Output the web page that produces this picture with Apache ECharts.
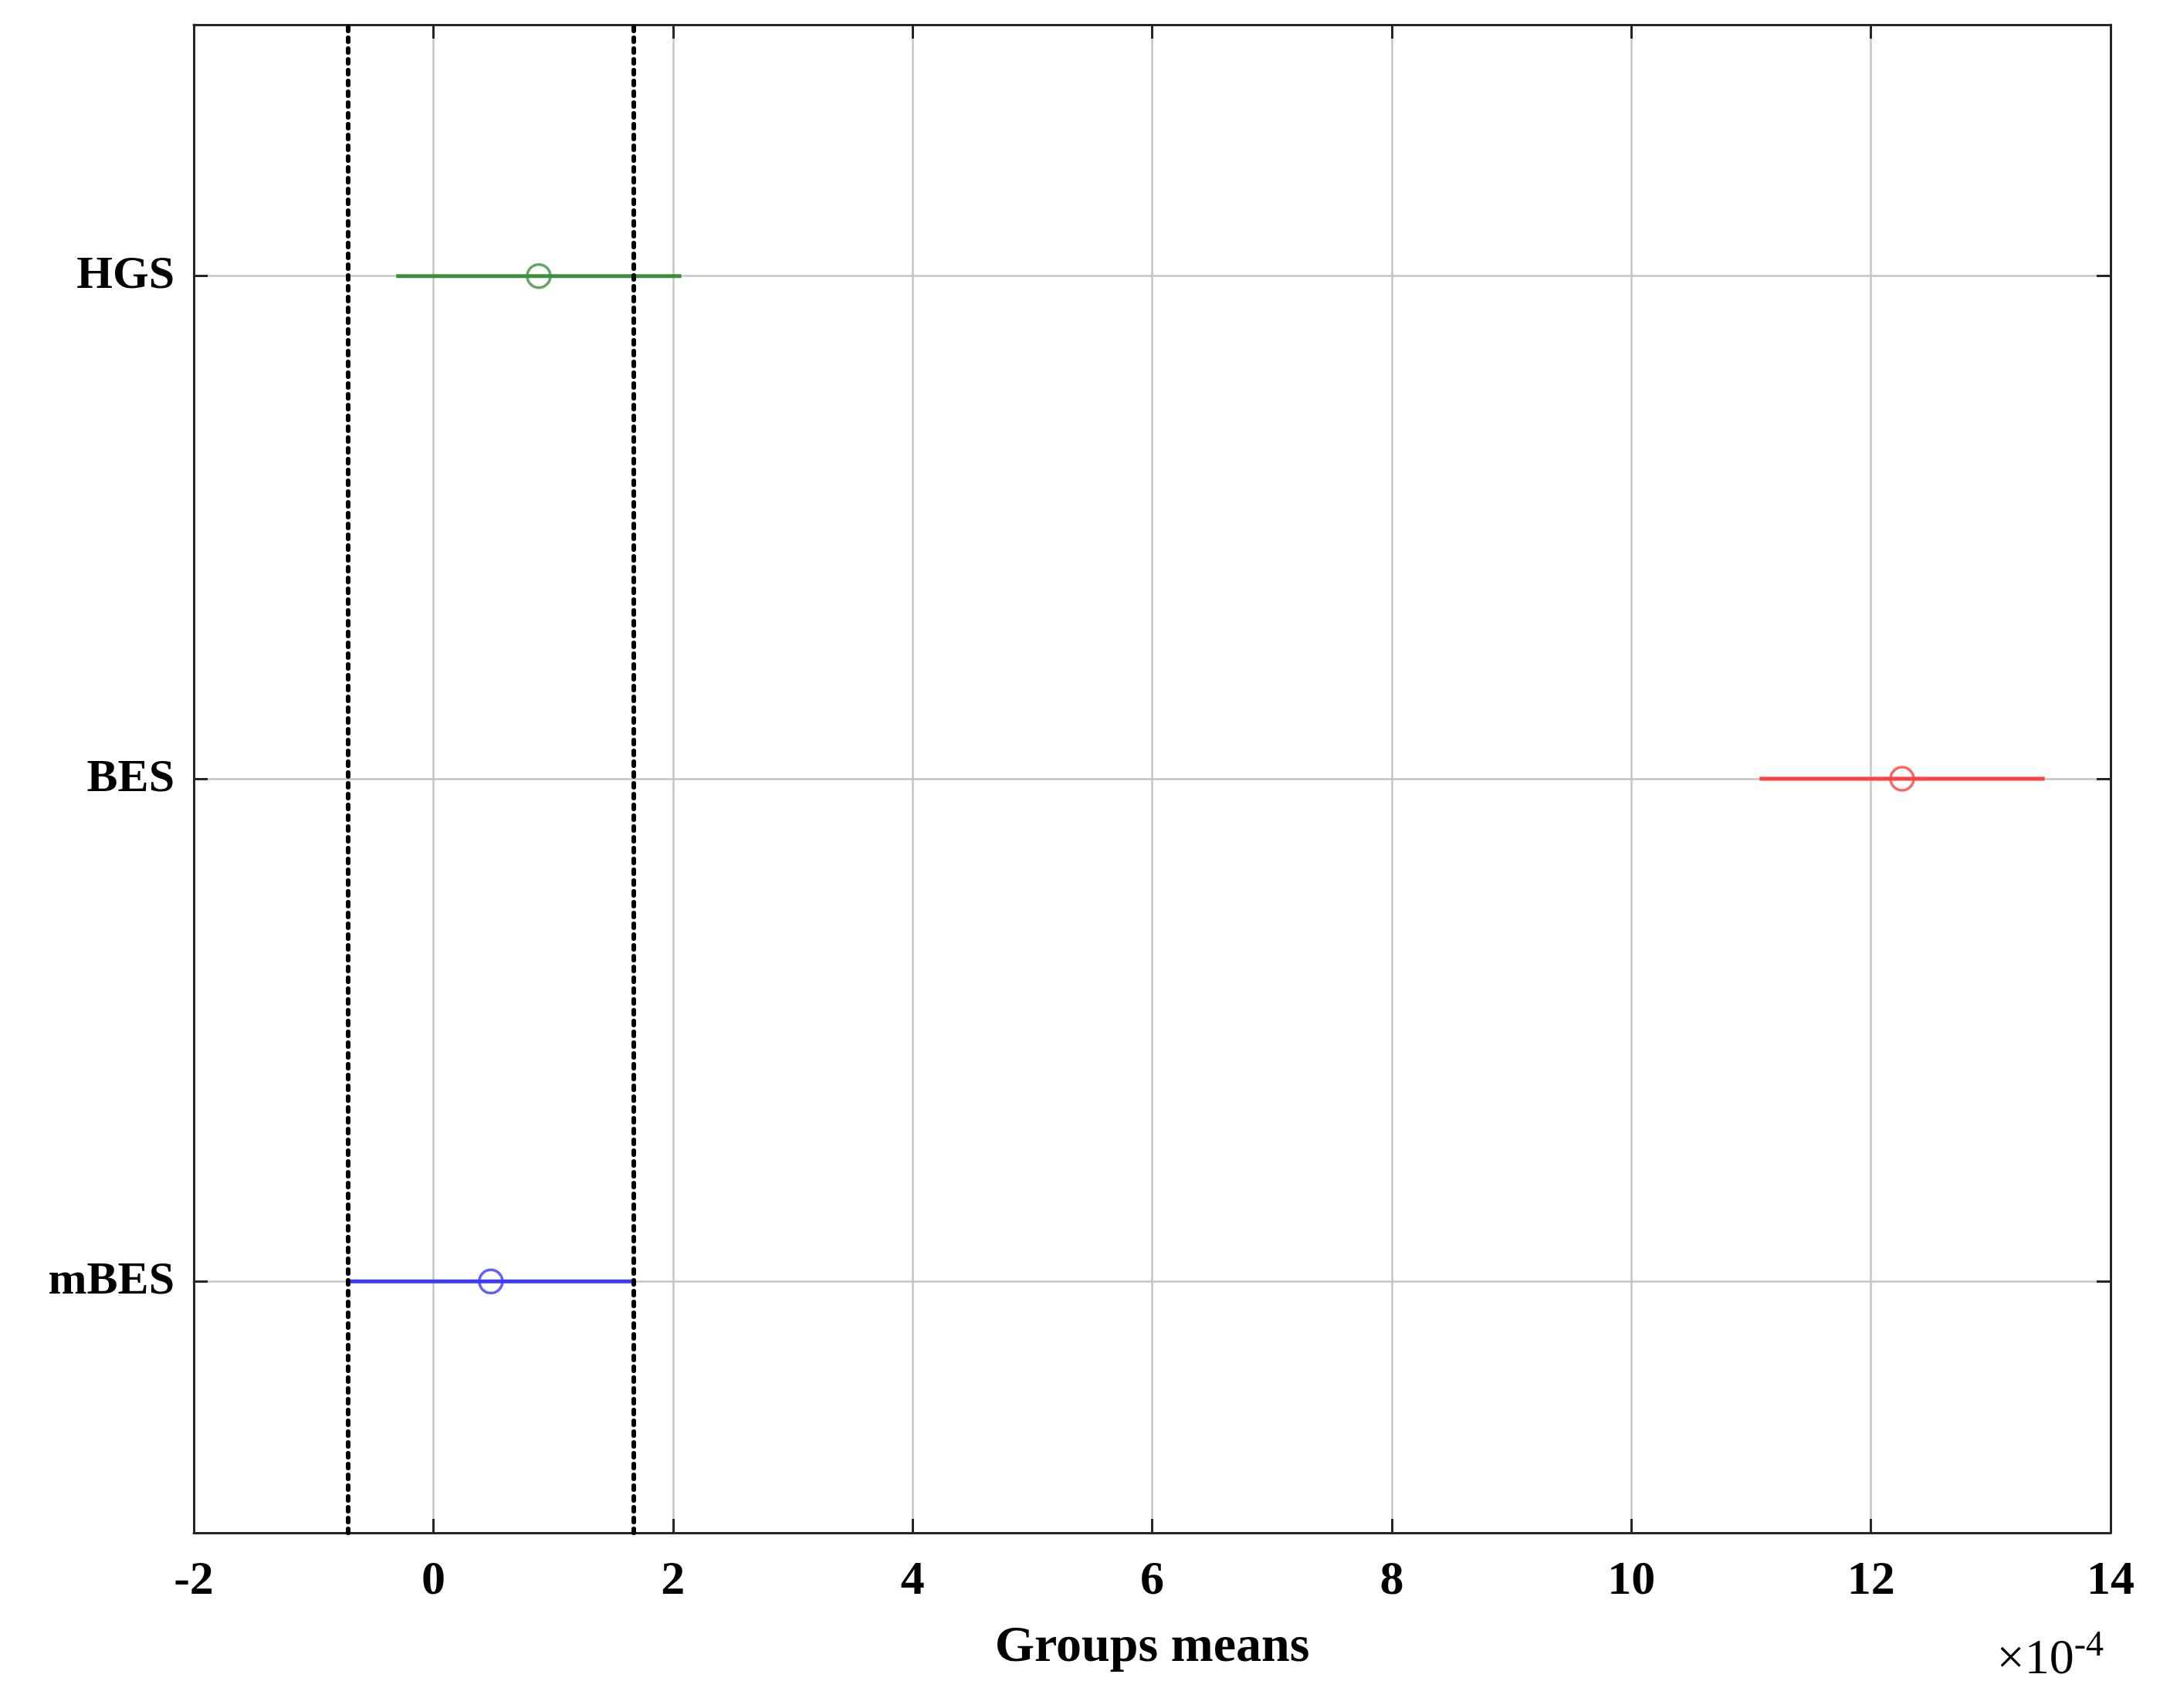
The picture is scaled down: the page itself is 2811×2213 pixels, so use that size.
<!DOCTYPE html>
<html>
<head>
<meta charset="utf-8">
<script src="https://cdn.jsdelivr.net/npm/echarts@6/dist/echarts.min.js"></script>
<style>
  html, body { margin: 0; padding: 0; background: #fff; }
  #chart { width: 2811px; height: 2213px; }
</style>
</head>
<body>
<div id="chart"></div>
<script>
// groups, bottom to top
var groups = ["mBES", "BES", "HGS"];
// group means and comparison intervals (x 10^-4)
var means = [0.48, 12.26, 0.88];
var lows = [-0.71, 11.07, -0.31];
var highs = [1.67, 13.45, 2.07];
var colors = ["#3a3aff", "#ff4040", "#3c8f3c"];
var xTicks = { min: -2, max: 14, step: 2 };

var font = "'Liberation Serif', 'Times New Roman', serif";
var axisColor = "#262626";

var chart = echarts.init(document.getElementById("chart"));

// interval lines of the chosen group (mBES)
var sel = 0;

var option = {
  backgroundColor: "#ffffff",
  animation: false,
  grid: { left: 251, right: 77, top: 32, bottom: 227 },
  xAxis: [
    {
      type: "value",
      min: xTicks.min,
      max: xTicks.max,
      interval: xTicks.step,
      name: "Groups means",
      nameLocation: "middle",
      nameGap: 116,
      nameTextStyle: { fontFamily: font, fontWeight: "bold", fontSize: 66, color: "#000" },
      axisLine: { show: true, onZero: false, lineStyle: { color: axisColor, width: 3 } },
      axisTick: { show: true, inside: true, length: 18, lineStyle: { color: axisColor, width: 3 } },
      axisLabel: { margin: 32, fontFamily: font, fontWeight: "bold", fontSize: 62, color: "#000" },
      splitLine: { show: true, lineStyle: { color: "#c4c4c4", width: 2.5 } }
    },
    {
      type: "value",
      position: "top",
      min: xTicks.min,
      max: xTicks.max,
      interval: xTicks.step,
      axisLine: { show: true, onZero: false, lineStyle: { color: axisColor, width: 3 } },
      axisTick: { show: true, inside: true, length: 18, lineStyle: { color: axisColor, width: 3 } },
      axisLabel: { show: false },
      splitLine: { show: false }
    }
  ],
  yAxis: [
    {
      type: "category",
      data: groups,
      boundaryGap: true,
      axisLine: { show: true, onZero: false, lineStyle: { color: axisColor, width: 3 } },
      axisTick: { show: true, inside: true, alignWithLabel: true, length: 18, lineStyle: { color: axisColor, width: 3 } },
      axisLabel: { margin: 25, fontFamily: font, fontWeight: "bold", fontSize: 60, color: "#000" },
      splitLine: { show: true, alignWithLabel: true, lineStyle: { color: "#c4c4c4", width: 2.5 } }
    },
    {
      type: "category",
      data: groups,
      position: "right",
      boundaryGap: true,
      axisLine: { show: true, onZero: false, lineStyle: { color: axisColor, width: 3 } },
      axisTick: { show: true, inside: true, alignWithLabel: true, length: 18, lineStyle: { color: axisColor, width: 3 } },
      axisLabel: { show: false },
      splitLine: { show: false }
    }
  ],
  graphic: [
    {
      type: "text",
      right: 86,
      top: 2110,
      style: {
        text: "×10{s|-4}",
        fontFamily: font,
        fontSize: 64,
        fill: "#000",
        rich: { s: { fontFamily: font, fontSize: 46, fill: "#000", verticalAlign: "top", padding: [0, 0, 36, 0] } }
      }
    }
  ],
  series: [
    {
      type: "custom",
      renderItem: function (params, api) {
        var i = api.value(0);
        var p1 = api.coord([api.value(1), i]);
        var p2 = api.coord([api.value(2), i]);
        return {
          type: "line",
          shape: { x1: p1[0], y1: p1[1], x2: p2[0], y2: p2[1] },
          style: { stroke: colors[i], lineWidth: 5 }
        };
      },
      encode: { x: [1, 2], y: 0 },
      data: groups.map(function (g, i) { return [i, lows[i], highs[i]]; }),
      z: 3
    },
    {
      type: "scatter",
      symbol: "circle",
      symbolSize: 30,
      data: groups.map(function (g, i) {
        return {
          value: [means[i], i],
          itemStyle: { color: "rgba(255,255,255,0)", borderColor: colors[i], borderWidth: 3.5 }
        };
      }),
      z: 4,
      markLine: {
        silent: true,
        symbol: "none",
        label: { show: false },
        lineStyle: { color: "#000", type: [5, 9], width: 6, cap: "round" },
        data: [{ xAxis: lows[sel] }, { xAxis: highs[sel] }]
      }
    }
  ]
};

chart.setOption(option);
</script>
</body>
</html>
